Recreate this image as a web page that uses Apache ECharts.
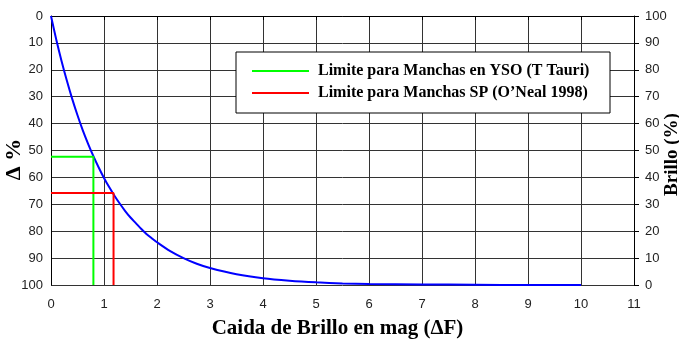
<!DOCTYPE html>
<html><head><meta charset="utf-8">
<script src="https://cdn.jsdelivr.net/npm/echarts@6/dist/echarts.min.js"></script>
<style>html,body{margin:0;padding:0;background:#fff}#c{width:679px;height:340px}</style>
</head><body><div id="c"></div>
<script>
// Brightness drop (mag) vs Δ%
const curveX = [0, 0.1, 0.2, 0.3, 0.4, 0.5, 0.6, 0.7, 0.8, 0.9, 1.0, 1.1, 1.2, 1.3, 1.4, 1.5, 1.6, 1.7, 1.8, 1.9, 2.0, 2.25, 2.5, 2.75, 3.0, 3.5, 4.0, 4.5, 5.0, 5.5, 6.0, 7.0, 8.0, 9.0, 10.0];
const curveY = [0, 8.8, 16.8, 24.1, 30.8, 36.9, 42.5, 47.5, 52.1, 56.3, 60.2, 63.7, 66.9, 69.8, 72.5, 74.9, 77, 79.1, 81, 82.6, 84.1, 87.4, 90, 92.1, 93.7, 96, 97.5, 98.4, 99, 99.4, 99.6, 99.8, 99.9, 100, 100];
const greenX = [0, 0.8, 0.8];
const greenY = [52.3, 52.3, 100];
const redX = [0, 1.18, 1.18];
const redY = [65.8, 65.8, 100];
const legendNames = ['Limite para Manchas en YSO (T Tauri)', 'Limite para Manchas SP (O’Neal 1998)'];
const xName = 'Caida de Brillo en mag (ΔF)';
const leftName = 'Δ %';
const rightName = 'Brillo (%)';

const zip = (a, b) => a.map((v, i) => [v, b[i]]);
const chart = echarts.init(document.getElementById('c'));
const serif = '"Liberation Serif", "DejaVu Serif", serif';
const sans = '"Liberation Sans", Arial, sans-serif';
chart.setOption({
  animation: false,
  grid: {left: 51, right: 45, top: 16, bottom: 55, containLabel: false, outerBoundsMode: 'none'},
  xAxis: {
    type: 'value', min: 0, max: 11, interval: 1,
    name: xName, nameLocation: 'middle', nameGap: 33, nameMoveOverlap: false,
    nameTextStyle: {fontFamily: serif, fontWeight: 'bold', fontSize: 21, color: '#000', padding: [0, 10, 0, 0]},
    axisLine: {lineStyle: {color: '#000'}},
    axisTick: {show: true, length: 4, lineStyle: {color: '#000'}},
    axisLabel: {fontFamily: sans, fontSize: 13, color: '#222', margin: 13},
    splitLine: {show: true, lineStyle: {color: '#333', width: 1}}
  },
  yAxis: [{
    type: 'value', min: 0, max: 100, interval: 10, inverse: true,
    name: leftName, nameLocation: 'middle', nameGap: 26, nameRotate: 90, nameMoveOverlap: false,
    nameTextStyle: {fontFamily: serif, fontWeight: 'bold', fontSize: 22, color: '#000', padding: [0, 18, 0, 0]},
    axisLine: {show: true, lineStyle: {color: '#000'}},
    axisTick: {show: false},
    axisLabel: {fontFamily: sans, fontSize: 13, color: '#222', margin: 8},
    splitLine: {show: true, lineStyle: {color: '#333', width: 1}}
  }, {
    type: 'value', min: 0, max: 100, interval: 10, position: 'right',
    name: rightName, nameLocation: 'middle', nameGap: 29, nameRotate: 90, nameMoveOverlap: false,
    nameTextStyle: {fontFamily: serif, fontWeight: 'bold', fontSize: 19, color: '#000', padding: [0, 8, 0, 0]},
    axisLine: {show: true, lineStyle: {color: '#000'}},
    axisTick: {show: true, length: 5, lineStyle: {color: '#000'}},
    axisLabel: {fontFamily: sans, fontSize: 13, color: '#222', margin: 11},
    splitLine: {show: false}
  }],
  legend: {
    data: legendNames, orient: 'vertical', left: 252, top: 63, itemGap: 6, padding: 0,
    icon: 'rect', itemWidth: 57, itemHeight: 2, z: 10, selectedMode: false,
    textStyle: {fontFamily: serif, fontWeight: 'bold', fontSize: 16, color: '#000', padding: [0, 0, 0, 4]}
  },
  graphic: [{
    type: 'rect', z: 5, shape: {x: 236, y: 52, width: 374, height: 61},
    style: {fill: '#fff', stroke: '#000', lineWidth: 1}
  }],
  series: [{
    name: 'curve', type: 'line', data: zip(curveX, curveY), smooth: 0.3,
    showSymbol: false, lineStyle: {color: '#0000ff', width: 2}, itemStyle: {color: '#0000ff'}, z: 3
  }, {
    name: legendNames[0], type: 'line', data: zip(greenX, greenY),
    showSymbol: false, lineStyle: {color: '#00ff00', width: 2}, itemStyle: {color: '#00ff00'}, z: 4
  }, {
    name: legendNames[1], type: 'line', data: zip(redX, redY),
    showSymbol: false, lineStyle: {color: '#ff0000', width: 2}, itemStyle: {color: '#ff0000'}, z: 4
  }]
});
</script></body></html>
